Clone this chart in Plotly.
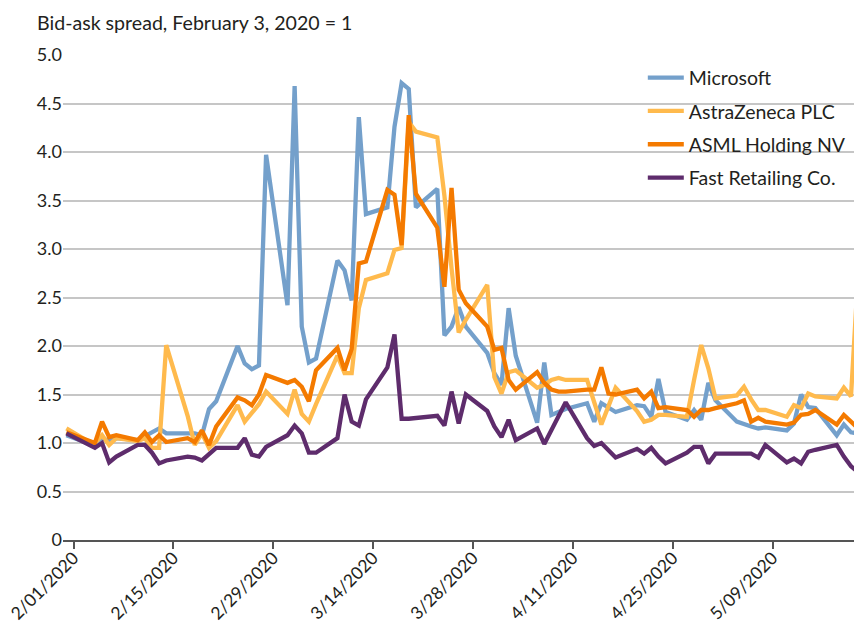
import plotly.graph_objects as go

dates = [
    "2020-01-31",
    "2020-02-03", "2020-02-04", "2020-02-05", "2020-02-06", "2020-02-07",
    "2020-02-10", "2020-02-11", "2020-02-12", "2020-02-13", "2020-02-14",
    "2020-02-17", "2020-02-18", "2020-02-19", "2020-02-20", "2020-02-21",
    "2020-02-24", "2020-02-25", "2020-02-26", "2020-02-27", "2020-02-28",
    "2020-03-02", "2020-03-03", "2020-03-04", "2020-03-05", "2020-03-06",
    "2020-03-09", "2020-03-10", "2020-03-11", "2020-03-12", "2020-03-13",
    "2020-03-16", "2020-03-17", "2020-03-18", "2020-03-19", "2020-03-20",
    "2020-03-23", "2020-03-24", "2020-03-25", "2020-03-26", "2020-03-27",
    "2020-03-30", "2020-03-31", "2020-04-01", "2020-04-02", "2020-04-03",
    "2020-04-06", "2020-04-07", "2020-04-08", "2020-04-09", "2020-04-10",
    "2020-04-13", "2020-04-14", "2020-04-15", "2020-04-16", "2020-04-17",
    "2020-04-20", "2020-04-21", "2020-04-22", "2020-04-23", "2020-04-24",
    "2020-04-27", "2020-04-28", "2020-04-29", "2020-04-30", "2020-05-01",
    "2020-05-04", "2020-05-05", "2020-05-06", "2020-05-07", "2020-05-08",
    "2020-05-11", "2020-05-12", "2020-05-13", "2020-05-14", "2020-05-15",
    "2020-05-18", "2020-05-19", "2020-05-20", "2020-05-21",
]

microsoft = [
    1.08,
    1.00, 1.00, 1.05, 1.02, 1.05,
    1.03, 1.07, 1.11, 1.15, 1.10,
    1.10, 1.10, 1.08, 1.35, 1.43,
    2.00, 1.82, 1.76, 1.80, 3.97,
    2.42, 4.68, 2.20, 1.83, 1.87,
    2.88, 2.78, 2.47, 4.36, 3.36,
    3.43, 4.26, 4.71, 4.65, 3.43,
    3.62, 2.11, 2.20, 2.40, 2.20,
    1.93, 1.72, 1.60, 2.39, 1.90,
    1.21, 1.83, 1.29, 1.32, 1.35,
    1.41, 1.22, 1.41, 1.36, 1.32,
    1.39, 1.38, 1.27, 1.66, 1.32,
    1.24, 1.34, 1.24, 1.62, 1.44,
    1.22, 1.19, 1.17, 1.15, 1.16,
    1.13, 1.20, 1.50, 1.37, 1.36,
    1.08, 1.19, 1.11, 1.10,
]

astrazeneca = [
    1.15,
    1.02, 1.00, 1.08, 0.98, 1.05,
    1.02, 1.05, 0.95, 0.95, 2.01,
    1.28, 0.98, 1.10, 0.95, 1.02,
    1.39, 1.22, 1.31, 1.40, 1.53,
    1.30, 1.55, 1.30, 1.22, 1.40,
    1.90, 1.72, 1.72, 2.39, 2.68,
    2.75, 2.99, 3.01, 4.31, 4.21,
    4.15, 3.55, 2.80, 2.14, 2.27,
    2.63, 1.68, 1.51, 1.73, 1.75,
    1.57, 1.60, 1.65, 1.67, 1.65,
    1.65, 1.42, 1.19, 1.38, 1.57,
    1.33, 1.22, 1.24, 1.29, 1.29,
    1.27, 1.65, 2.01, 1.77, 1.46,
    1.49, 1.58, 1.45, 1.34, 1.34,
    1.27, 1.39, 1.36, 1.51, 1.48,
    1.46, 1.57, 1.48, 2.75,
]

asml = [
    1.11,
    1.02, 1.00, 1.22, 1.06, 1.08,
    1.03, 1.11, 1.01, 1.08, 1.01,
    1.05, 1.01, 1.13, 0.98, 1.17,
    1.47, 1.44, 1.39, 1.50, 1.70,
    1.62, 1.65, 1.58, 1.43, 1.75,
    1.98, 1.75, 1.97, 2.85, 2.87,
    3.61, 3.56, 3.04, 4.38, 3.57,
    3.22, 2.61, 3.63, 2.58, 2.44,
    2.20, 1.96, 1.98, 1.65, 1.55,
    1.73, 1.62, 1.55, 1.53, 1.53,
    1.55, 1.55, 1.78, 1.51, 1.50,
    1.55, 1.46, 1.53, 1.36, 1.37,
    1.34, 1.27, 1.34, 1.34, 1.36,
    1.41, 1.44, 1.22, 1.26, 1.22,
    1.19, 1.21, 1.29, 1.30, 1.34,
    1.19, 1.29, 1.22, 1.15,
]

fast_retailing = [
    1.10,
    0.98, 0.95, 1.00, 0.80, 0.86,
    0.98, 0.98, 0.90, 0.79, 0.82,
    0.86, 0.85, 0.82, 0.88, 0.95,
    0.95, 1.05, 0.88, 0.86, 0.96,
    1.08, 1.18, 1.10, 0.90, 0.90,
    1.05, 1.50, 1.22, 1.18, 1.45,
    1.78, 2.12, 1.25, 1.25, 1.26,
    1.28, 1.18, 1.53, 1.20, 1.50,
    1.33, 1.17, 1.06, 1.24, 1.03,
    1.15, 0.99, 1.13, 1.28, 1.42,
    1.05, 0.97, 1.00, 0.92, 0.85,
    0.94, 0.89, 0.95, 0.86, 0.79,
    0.90, 0.96, 0.96, 0.79, 0.89,
    0.89, 0.89, 0.89, 0.85, 0.98,
    0.80, 0.84, 0.79, 0.91, 0.93,
    0.98, 0.86, 0.76, 0.70,
]

series_names = ["Microsoft", "AstraZeneca PLC", "ASML Holding NV", "Fast Retailing Co."]
series_colors = ["#74A0CB", "#FFBA4D", "#F47A00", "#5E2C6C"]

x_tick_vals = ["2020-02-01", "2020-02-15", "2020-02-29", "2020-03-14",
               "2020-03-28", "2020-04-11", "2020-04-25", "2020-05-09"]
x_tick_text = ["2/01/2020", "2/15/2020", "2/29/2020", "3/14/2020",
               "3/28/2020", "4/11/2020", "4/25/2020", "5/09/2020"]
y_tick_vals = [0, 0.5, 1.0, 1.5, 2.0, 2.5, 3.0, 3.5, 4.0, 4.5, 5.0]
y_tick_text = ["0", "0.5", "1.0", "1.5", "2.0", "2.5", "3.0", "3.5", "4.0", "4.5", "5.0"]

TEXT = "#231F20"
FONT = "Lato"

fig = go.Figure()
for name, vals, color in zip(series_names, [microsoft, astrazeneca, asml, fast_retailing], series_colors):
    fig.add_trace(go.Scatter(
        x=dates, y=vals, name=name, mode="lines", legendgroup=name,
        line=dict(color=color, width=4.3, shape="linear"),
    ))

fig.update_layout(
    width=854, height=626,
    margin=dict(l=63, r=0, t=55, b=86, autoexpand=False),
    paper_bgcolor="white", plot_bgcolor="white",
    font=dict(family=FONT, size=18, color=TEXT),
    showlegend=True,
    legend=dict(
        x=0.733, y=0.993, xanchor="left", yanchor="top",
        bgcolor="rgba(0,0,0,0)", font=dict(family=FONT, size=19.5, color=TEXT),
        tracegroupgap=5, itemwidth=36,
    ),
    xaxis=dict(
        type="date", automargin=False,
        range=["2020-01-30 12:40", "2020-05-20 10:05"],
        tickmode="array", tickvals=x_tick_vals, ticktext=x_tick_text,
        tickangle=-45, tickfont=dict(family=FONT, size=17.5, color=TEXT),
        ticks="outside", ticklen=7, tickwidth=1.5, tickcolor="#555555",
        ticklabelstandoff=-8,
        showline=True, linecolor="#555555", linewidth=2,
        showgrid=False, zeroline=False,
    ),
    yaxis=dict(
        range=[0, 5], automargin=False,
        tickmode="array", tickvals=y_tick_vals, ticktext=y_tick_text,
        tickfont=dict(family=FONT, size=18, color=TEXT),
        showgrid=True, gridcolor="#C6C6C6", gridwidth=1.5,
        zeroline=False, showline=False, ticks="",
    ),
    annotations=[dict(
        text="Bid-ask spread, February 3, 2020 = 1",
        xref="paper", yref="paper", x=-0.0354, y=1.068,
        xanchor="left", yanchor="middle", showarrow=False,
        font=dict(family=FONT, size=19.6, color=TEXT),
    )],
)

fig.write_html(
    "out.html",
    config={"displayModeBar": False},
    post_script="document.body.style.margin='0';document.body.style.overflow='hidden';",
)
